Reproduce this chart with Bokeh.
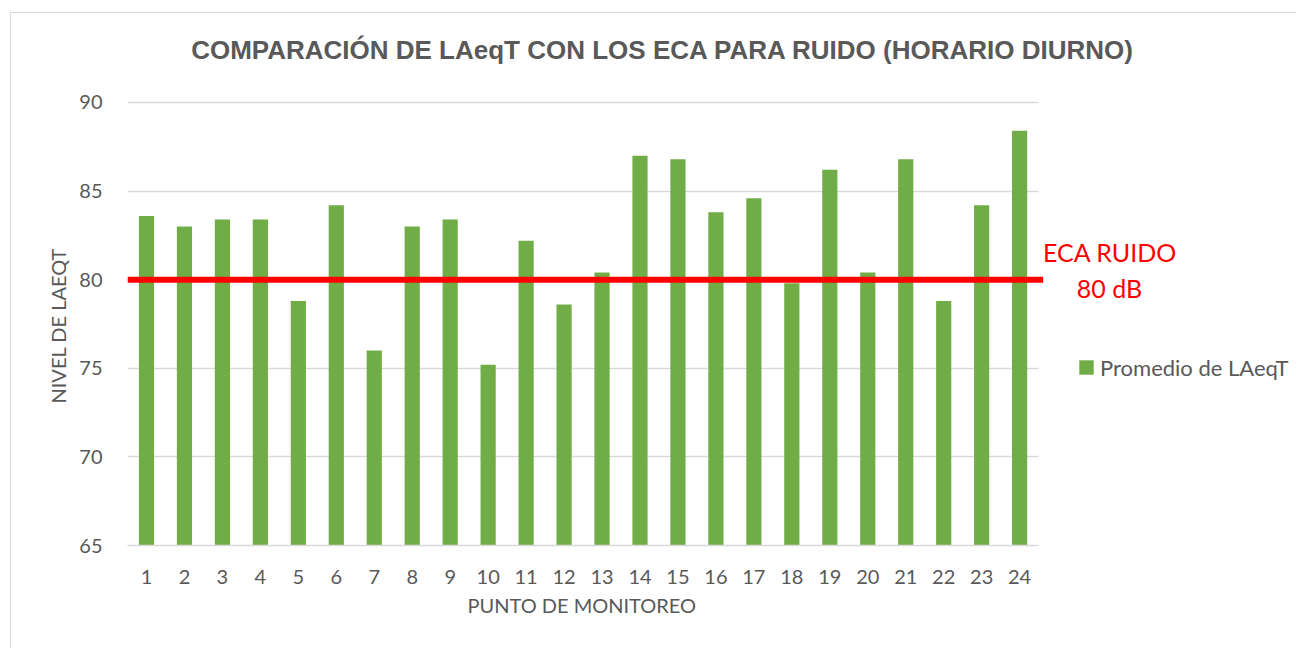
from bokeh.plotting import figure
from bokeh.models import (Range1d, FixedTicker, Label, Legend, LegendItem, Title)
from bokeh.embed import file_html
from bokeh.resources import INLINE

points = [str(i) for i in range(1, 25)]
laeqt = [83.6, 83.0, 83.4, 83.4, 78.8, 84.2, 76.0, 83.0, 83.4, 75.2, 82.2, 78.6,
         80.4, 87.0, 86.8, 83.8, 84.6, 79.8, 86.2, 80.4, 86.8, 78.8, 84.2, 88.4]
eca_limit = 80
y_ticks = [65, 70, 75, 80, 85, 90]

title_text = "COMPARACIÓN DE LAeqT CON LOS ECA PARA RUIDO (HORARIO DIURNO)"
series_name = "Promedio de LAeqT"
x_title = "PUNTO DE MONITOREO"
y_title = "NIVEL DE LAEQT"

GRAY = "#595959"
FONT = "Lato"

xs = list(range(1, len(points) + 1))
n = len(points)

p = figure(width=1286, height=636, output_backend="svg", toolbar_location=None,
           x_range=Range1d(0.5, 31.32), y_range=Range1d(65, 95.02),
           min_border_left=116, min_border_right=0, min_border_top=0, min_border_bottom=104)
p.styles = {"margin-left": "10px", "margin-top": "12px",
            "border-left": "1px solid #d9d9d9", "border-top": "1px solid #d9d9d9"}
p.outline_line_color = None
p.background_fill_color = "white"
p.border_fill_color = "white"
p.title.visible = False

r = p.vbar(x=xs, top=laeqt, bottom=65, width=0.4, fill_color="#70ad47", line_color=None)

p.line(x=[0.5, n + 0.62], y=[eca_limit, eca_limit], line_color="#ff0000", line_width=6)

p.xgrid.grid_line_color = None
p.ygrid.grid_line_color = "#d9d9d9"
p.ygrid.grid_line_width = 1.5
p.ygrid.cross_bounds = (0.5, n + 0.5)
p.ygrid.ticker = FixedTicker(ticks=y_ticks)
p.yaxis.ticker = FixedTicker(ticks=y_ticks)
p.yaxis.axis_line_color = None
p.yaxis.major_tick_line_color = None
p.yaxis.minor_tick_line_color = None
p.yaxis.major_label_text_font = FONT
p.yaxis.major_label_text_font_size = "20px"
p.yaxis.major_label_text_color = GRAY
p.yaxis.major_label_standoff = 19

p.xaxis.ticker = FixedTicker(ticks=xs)
p.xaxis.major_label_overrides = {x: s for x, s in zip(xs, points)}
p.xaxis.bounds = (0.5, n + 0.5)
p.xaxis.axis_line_color = "#d9d9d9"
p.xaxis.axis_line_width = 1.5
p.xaxis.major_tick_line_color = None
p.xaxis.minor_tick_line_color = None
p.xaxis.major_label_text_font = FONT
p.xaxis.major_label_text_font_size = "20px"
p.xaxis.major_label_text_color = GRAY
p.xaxis.major_label_standoff = 18

p.add_layout(Title(text=x_title, align="left", offset=340, standoff=9, text_font=FONT,
                   text_font_size="20px", text_font_style="normal", text_color=GRAY), "below")
p.add_layout(Title(text=y_title, align="left", offset=142, standoff=14, text_font=FONT,
                   text_font_size="20px", text_font_style="normal", text_color=GRAY), "left")

p.add_layout(Label(x=535.5, y=496, x_units="screen", y_units="screen", text=title_text,
                   text_align="center", text_baseline="alphabetic", text_font="Liberation Sans",
                   text_font_style="bold", text_font_size="26px", text_color=GRAY))

p.add_layout(Label(x=982.5, y=294, x_units="screen", y_units="screen", text="ECA RUIDO",
                   text_align="center", text_baseline="alphabetic", text_font=FONT,
                   text_font_size="25px", text_color="#ff0000"))
p.add_layout(Label(x=982, y=258, x_units="screen", y_units="screen", text=f"{eca_limit} dB",
                   text_align="center", text_baseline="alphabetic", text_font=FONT,
                   text_font_size="25px", text_color="#ff0000"))

legend = Legend(items=[LegendItem(label=series_name, renderers=[r])], location=(950, 164.5),
                glyph_width=18, glyph_height=18, label_height=18, label_standoff=5,
                padding=0, margin=0, border_line_color=None, background_fill_alpha=0,
                label_text_font=FONT, label_text_font_size="22px", label_text_color=GRAY)
p.add_layout(legend, "center")

open("out.html", "w").write(file_html(p, INLINE))
